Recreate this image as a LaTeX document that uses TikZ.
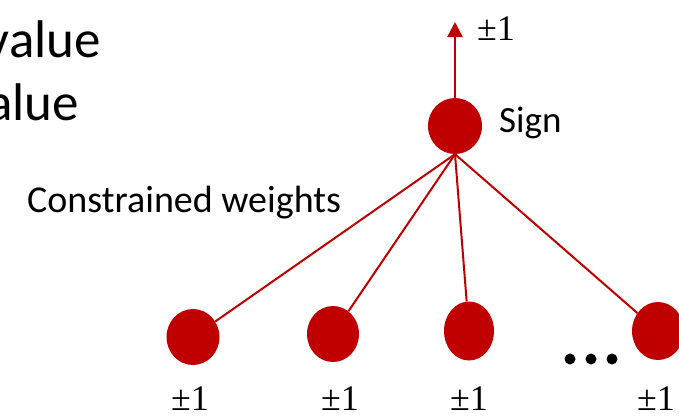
\documentclass[tikz,border=0pt]{standalone}
\usepackage{fontspec}
\setmainfont{Carlito}
\newfontfamily\pmfont{Liberation Serif}
\usetikzlibrary{shapes.geometric,arrows.meta}
\definecolor{sred}{HTML}{C00000}

\begin{document}
\begin{tikzpicture}[x=1pt, y=-1pt, >={Triangle[width=15pt,length=15pt]},
    unit/.style={ellipse, fill=sred, draw=none, inner sep=0pt},
    wline/.style={sred, line width=2pt},
    pm/.style={anchor=base west, inner sep=0pt, font=\pmfont\fontsize{36}{40}\selectfont}]
    \useasboundingbox (0,0) rectangle (679,416);
    \clip (0,0) rectangle (679,416);
    % Left text (cut off by the frame)
    \node[anchor=base east, inner sep=0pt, font=\fontsize{53}{60}\selectfont] (val1) at (101,57) {value};
    \node[anchor=base east, inner sep=0pt, font=\fontsize{53}{60}\selectfont] (val2) at (79,120) {alue};
    % Output unit
    \node[unit, minimum width=54pt, minimum height=56pt] (sign) at (455,126) {};
    \node[anchor=base west, inner sep=0pt, font=\fontsize{37}{44}\selectfont] (signlbl) at (499,132) {Sign};
    \coordinate (out) at (455,22);
    \draw[->, sred, line width=2.5pt] (sign) -- (out);
    \node[pm] (outlbl) at (477,40) {±1};
    \node[anchor=base west, inner sep=0pt, font=\fontsize{38}{44}\selectfont] (cw) at (27,212) {Constrained weights};
    % Input units with their weights
    \foreach \n/\x/\y/\w/\h/\lx in {1/193/337/53/56/171, 2/333/334/52/56/321, 3/469/331/50/59/450, 4/658/331/52/58/637} {
        \node[unit, minimum width=\w pt, minimum height=\h pt] (in\n) at (\x,\y) {};
        \node[pm] (lbl\n) at (\lx,410) {±1};
        \draw[wline] (sign.south) -- (in\n);
    }
    % Dots
    \foreach \x in {570,591,612}
        \fill (\x,359) circle (5.5pt);
\end{tikzpicture}
\end{document}
